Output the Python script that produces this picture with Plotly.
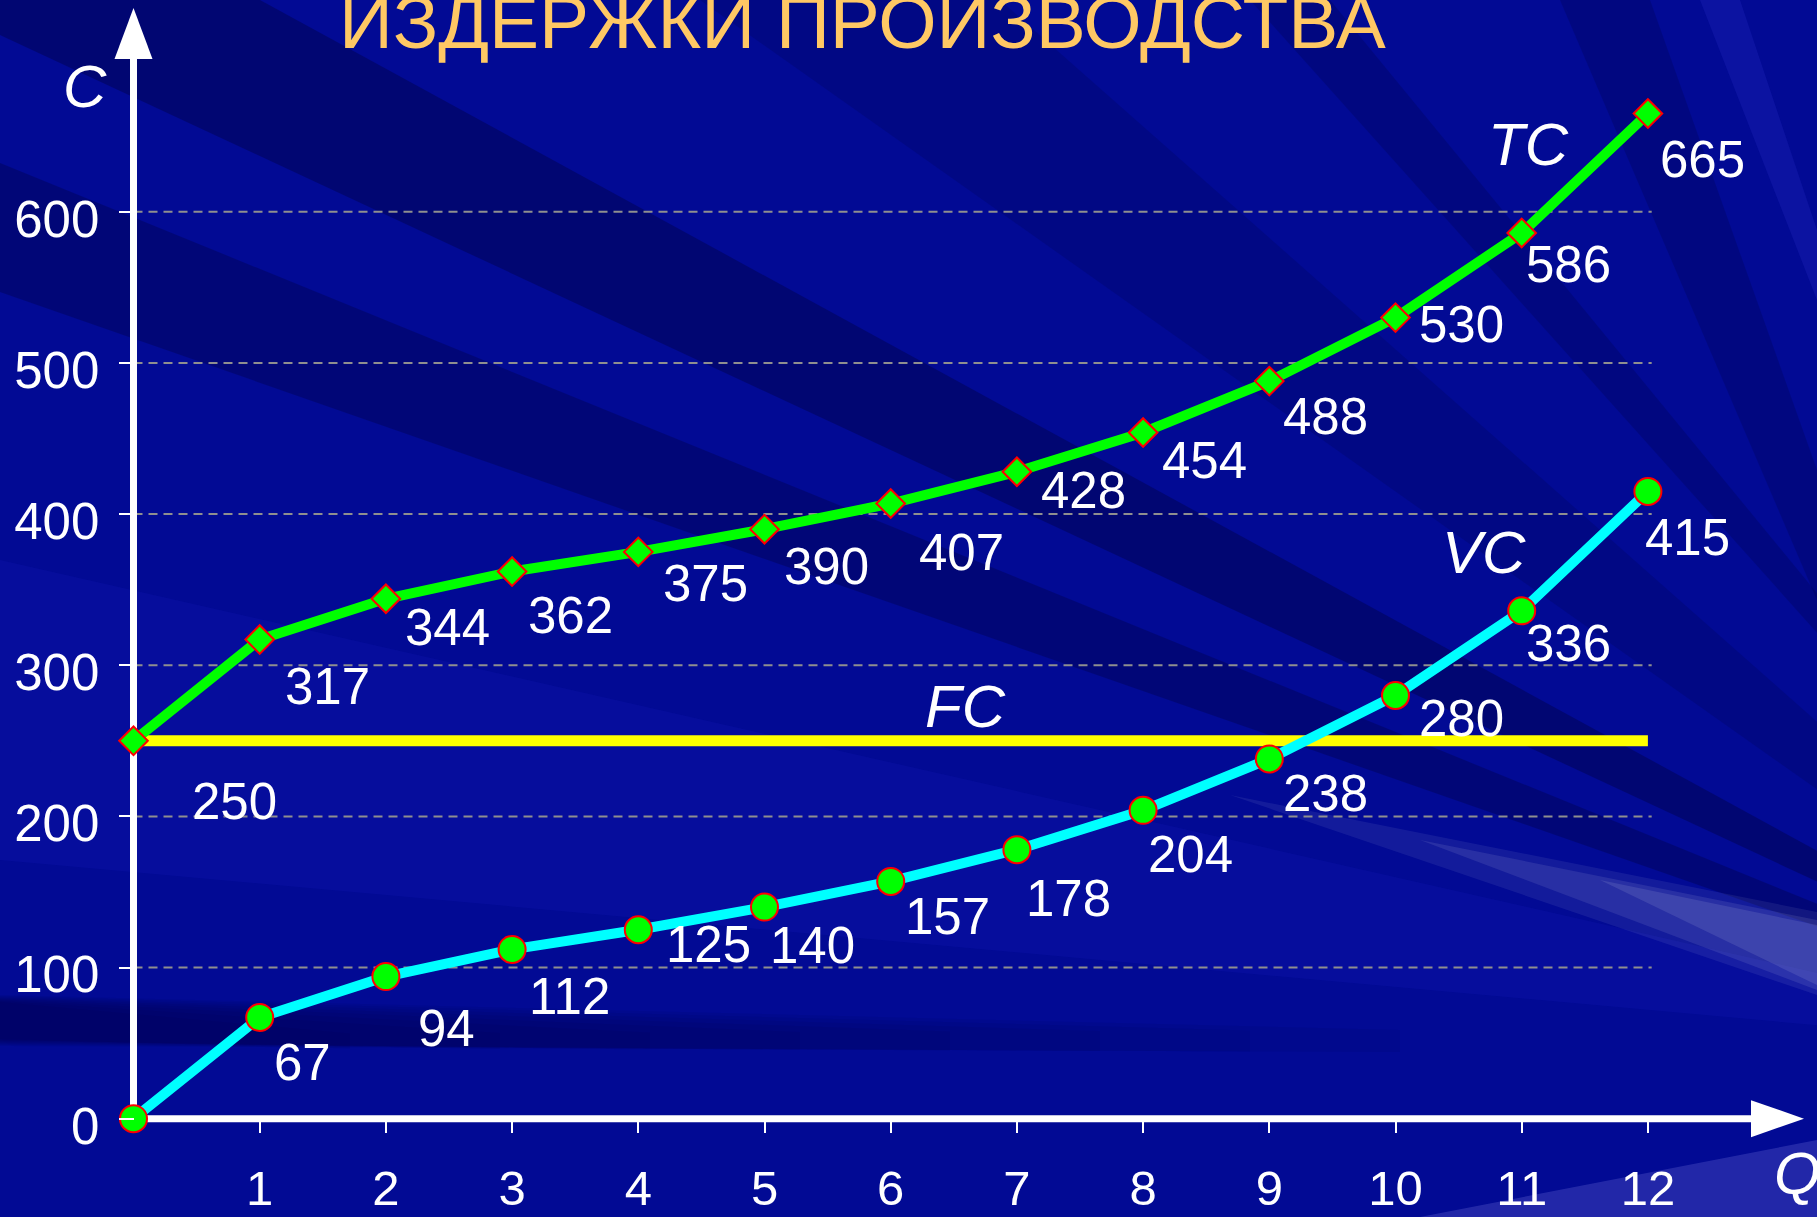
import plotly.graph_objects as go

# ---------------- data ----------------
Q = [0, 1, 2, 3, 4, 5, 6, 7, 8, 9, 10, 11, 12]
TC = [250, 317, 344, 362, 375, 390, 407, 428, 454, 488, 530, 586, 665]
VC = [0, 67, 94, 112, 125, 140, 157, 178, 204, 238, 280, 336, 415]
FC = [250, 250, 250, 250, 250, 250, 250, 250, 250, 250, 250, 250, 250]
Y_TICKS = [0, 100, 200, 300, 400, 500, 600]
X_TICKS = [1, 2, 3, 4, 5, 6, 7, 8, 9, 10, 11, 12]
TITLE = "ИЗДЕРЖКИ ПРОИЗВОДСТВА"
SERIES_NAMES = ["TC", "VC", "FC"]
AXIS_NAMES = ["C", "Q"]

# ---------------- layout constants (pixels) ----------------
W, H = 1817, 1217
X0PX, UX = 133.5, 126.2      # pixel of Q=0, pixels per unit of Q
Y0PX, UY = 1118.7, 1.5115    # pixel of C=0, pixels per unit of C
FONT = "Liberation Sans, Arial, sans-serif"

# label offsets (dx right, dy down) in pixels from each marker
TC_OFF = [(101, 61), (68, 47), (62, 29), (58, 44), (67, 32), (62, 37), (71, 49),
          (67, 19), (61, 28), (56, 35), (66, 7), (47, 32), (55, 46)]
VC_OFF = [None, (43, 45), (61, 52), (57, 47), (70, 15), (48, 38), (57, 35),
          (52, 49), (47, 44), (56, 35), (66, 23), (47, 33), (40, 46)]

xr = [-X0PX / UX, (W - X0PX) / UX]
yr = [-(H - Y0PX) / UY, Y0PX / UY]


def px(xp, yp):
    return xp / W, 1 - yp / H


def poly(points):
    s = ""
    for i, (a, b) in enumerate(points):
        u, v = px(a, b)
        s += ("M" if i == 0 else "L") + f"{u:.5f},{v:.5f} "
    return s + "Z"


fig = go.Figure()

# FC line
fig.add_trace(go.Scatter(x=Q, y=FC, mode="lines",
                         line=dict(color="#FFFF00", width=11), hoverinfo="skip"))
# VC
fig.add_trace(go.Scatter(x=Q, y=VC, mode="lines+markers",
                         line=dict(color="#00FFFF", width=10),
                         marker=dict(symbol="circle", size=27, color="#00FF00",
                                     line=dict(color="#FF0000", width=2))))
# TC
fig.add_trace(go.Scatter(x=Q, y=TC, mode="lines+markers",
                         line=dict(color="#00FF00", width=10),
                         marker=dict(symbol="diamond", size=22, color="#00FF00",
                                     line=dict(color="#FF0000", width=2))))

shapes = []
# background rays
P = (2200, 1060)
DK = "rgba(0,0,60,{a})"
bg_polys = [
    ([(0, 0), (260, 0), P, (0, 35)], DK.format(a=0.38)),
    ([(0, 163), P, (0, 292)], DK.format(a=0.32)),
    ([(0, 560), P, (0, 860)], "rgba(40,40,210,0.12)"),
    ([(700, 0), (1000, 0), P], DK.format(a=0.18)),
    ([(1250, 0), (1330, 0), P], DK.format(a=0.22)),
    ([(1560, 0), (1650, 0), (1817, 470), (1817, 600)], DK.format(a=0.22)),
    ([(1700, 0), (1740, 0), (1817, 230), (1817, 300)], "rgba(60,60,220,0.18)"),
    ([(1230, 795), (1817, 912), (1817, 995)], "rgba(255,255,255,0.07)"),
    ([(1420, 840), (1817, 920), (1817, 990)], "rgba(255,255,255,0.09)"),
    ([(1600, 880), (1817, 925), (1817, 985)], "rgba(255,255,255,0.1)"),
    ([(1420, 1217), (1817, 1140), (1817, 1217)], "rgba(110,110,215,0.3)"),
]
# soft horizontal dark band near the bottom (stacked thin layers -> fading edge)
for k, xend in enumerate([1400, 1250, 1100, 950, 800, 650, 500, 350]):
    bg_polys.append(([(0, 995 + k), (xend, 1030 + k * 0.5), (xend, 1052 - k * 0.5), (0, 1046 - k)],
                     DK.format(a=0.07)))
for pts, col in bg_polys:
    shapes.append(dict(type="path", xref="paper", yref="paper", path=poly(pts),
                       fillcolor=col, line=dict(width=0), layer="below"))

# grid lines
grid_end = 12.03
for v in Y_TICKS[1:]:
    shapes.append(dict(type="line", xref="x", yref="y", x0=0, x1=grid_end, y0=v, y1=v,
                       line=dict(color="#8f8f8f", width=2, dash="9px,6px"), layer="below"))

# axis lines with arrows
ax_w = 7
y_base = (Y0PX - 59) / UY
y_tip = (Y0PX - 8) / UY
x_base = (1751 - X0PX) / UX
x_tip = (1804 - X0PX) / UX
hw_x = 19 / UX
hw_y = 18.5 / UY
shapes.append(dict(type="line", xref="x", yref="y", x0=0, x1=0, y0=-ax_w / 2 / UY, y1=y_base + 1,
                   line=dict(color="white", width=ax_w), layer="below"))
shapes.append(dict(type="line", xref="x", yref="y", x0=-ax_w / 2 / UX, x1=x_base + 0.01, y0=0, y1=0,
                   line=dict(color="white", width=ax_w), layer="below"))
shapes.append(dict(type="path", xref="x", yref="y",
                   path=f"M{-hw_x},{y_base} L{hw_x},{y_base} L0,{y_tip} Z",
                   fillcolor="white", line=dict(width=0), layer="below"))
shapes.append(dict(type="path", xref="x", yref="y",
                   path=f"M{x_base},{-hw_y} L{x_base},{hw_y} L{x_tip},0 Z",
                   fillcolor="white", line=dict(width=0), layer="below"))

annotations = []
for i, (q, v) in enumerate(zip(Q, TC)):
    dx, dy = TC_OFF[i]
    annotations.append(dict(x=q, y=v, xref="x", yref="y", text=str(v), showarrow=False,
                            xshift=dx, yshift=-dy, xanchor="center", yanchor="middle",
                            font=dict(family=FONT, size=51, color="white")))
for i, (q, v) in enumerate(zip(Q, VC)):
    if VC_OFF[i] is None:
        continue
    dx, dy = VC_OFF[i]
    annotations.append(dict(x=q, y=v, xref="x", yref="y", text=str(v), showarrow=False,
                            xshift=dx, yshift=-dy, xanchor="center", yanchor="middle",
                            font=dict(family=FONT, size=51, color="white")))

# series names
for name, (xp_, yp_) in zip(SERIES_NAMES, [(1528, 144), (1484, 552), (965, 706)]):
    u, v = px(xp_, yp_)
    annotations.append(dict(x=u, y=v, xref="paper", yref="paper", text=f"<i>{name}</i>",
                            showarrow=False, xanchor="center", yanchor="middle",
                            font=dict(family=FONT, size=60, color="white")))
# axis names
u, v = px(85, 86)
annotations.append(dict(x=u, y=v, xref="paper", yref="paper", text=f"<i>{AXIS_NAMES[0]}</i>",
                        showarrow=False, xanchor="center", yanchor="middle",
                        font=dict(family=FONT, size=60, color="white")))
u, v = px(1772, 1173)
annotations.append(dict(x=u, y=v, xref="paper", yref="paper", text=f"<i>{AXIS_NAMES[1]}</i>",
                        showarrow=False, xanchor="left", yanchor="middle",
                        font=dict(family=FONT, size=60, color="white")))
# title
u, v = px(862, 22)
annotations.append(dict(x=u, y=v, xref="paper", yref="paper", text=TITLE,
                        showarrow=False, xanchor="center", yanchor="middle",
                        font=dict(family=FONT, size=75, color="#FFC864")))

fig.update_layout(
    template="none",
    width=W, height=H, margin=dict(l=0, r=0, t=0, b=0, pad=0, autoexpand=False),
    paper_bgcolor="#020A94", plot_bgcolor="rgba(0,0,0,0)",
    showlegend=False, shapes=shapes, annotations=annotations,
    xaxis=dict(range=xr, domain=[0, 1], anchor="free", position=(H - Y0PX) / H,
               automargin=False,
               showgrid=False, zeroline=False, showline=False,
               tickvals=X_TICKS, ticktext=[str(t) for t in X_TICKS],
               ticks="outside", ticklen=13, tickwidth=2, tickcolor="white",
               tickfont=dict(family=FONT, size=49, color="white"),
               ticklabelstandoff=13, fixedrange=True),
    yaxis=dict(range=yr, domain=[0, 1], anchor="free", position=X0PX / W,
               automargin=False,
               showgrid=False, zeroline=False, showline=False,
               tickvals=Y_TICKS, ticktext=[str(t) for t in Y_TICKS],
               ticks="outside", ticklen=15, tickwidth=2, tickcolor="white",
               tickfont=dict(family=FONT, size=51, color="white"),
               ticklabelstandoff=9, ticklabelshift=7, fixedrange=True),
    hovermode=False,
)

fig.write_html("out.html", config={"displayModeBar": False},
               post_script="document.body.style.margin='0';document.body.style.overflow='hidden';")
